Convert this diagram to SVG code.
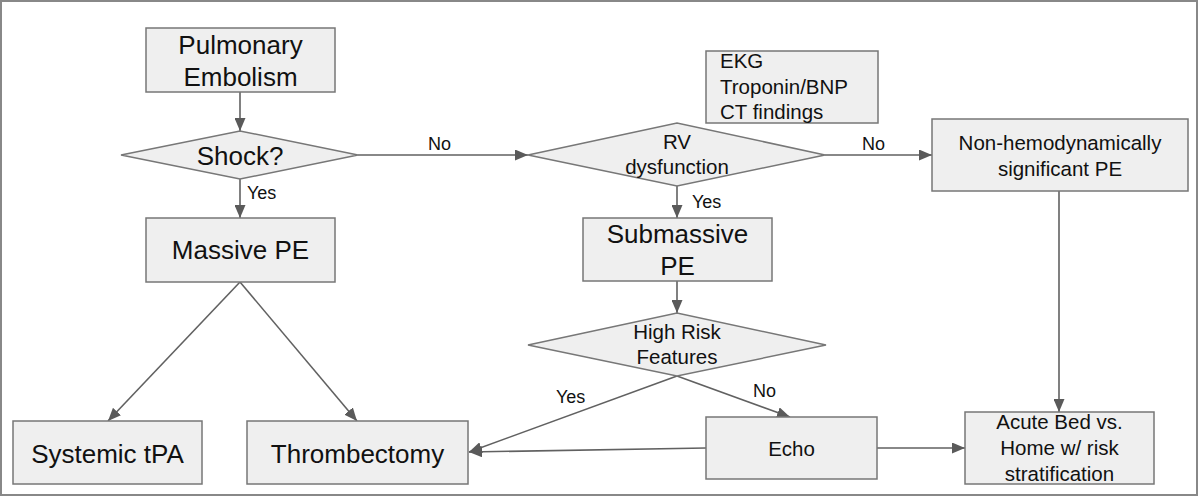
<svg xmlns="http://www.w3.org/2000/svg" width="1200" height="497" viewBox="0 0 1200 497">
<style>
.box{fill:#efefef;stroke:#777;stroke-width:1.5}
.t{font-family:"Liberation Sans",Arial,sans-serif;fill:#111;text-anchor:middle}
.big{font-size:26px}
.mid{font-size:20.5px}
.lbl{font-size:18px;font-family:"Liberation Sans",Arial,sans-serif;fill:#111}
.c{stroke:#616161;stroke-width:1.6;fill:none;marker-end:url(#ah)}
</style>
<defs>
<marker id="ah" markerUnits="userSpaceOnUse" markerWidth="13" markerHeight="11" refX="13" refY="5.5" orient="auto">
<path d="M0,0 L13,5.5 L0,11 z" fill="#5a5a5a"/>
</marker>
</defs>
<rect x="1" y="1" width="1196" height="494" fill="#fff" stroke="#888" stroke-width="2"/>
<g id="connectors">
<line class="c" x1="240" y1="92" x2="240" y2="131"/>
<line class="c" x1="240" y1="179" x2="240" y2="218"/>
<line class="c" x1="358" y1="155" x2="528" y2="155"/>
<line class="c" x1="677" y1="186" x2="677" y2="218"/>
<line class="c" x1="825" y1="155" x2="932" y2="155"/>
<line class="c" x1="240" y1="282" x2="108" y2="421"/>
<line class="c" x1="240" y1="282" x2="357" y2="421"/>
<line class="c" x1="677" y1="281" x2="677" y2="313"/>
<line class="c" x1="677" y1="376" x2="469" y2="452"/>
<line class="c" x1="677" y1="376" x2="790" y2="417"/>
<line class="c" x1="706" y1="448" x2="469" y2="452"/>
<line class="c" x1="877" y1="448" x2="965" y2="448"/>
<line class="c" x1="1059" y1="191" x2="1059" y2="412"/>
<text class="lbl" x="247" y="199">Yes</text>
<text class="lbl" x="428" y="150">No</text>
<text class="lbl" x="692" y="208">Yes</text>
<text class="lbl" x="862" y="150">No</text>
<text class="lbl" x="556" y="403">Yes</text>
<text class="lbl" x="753" y="397">No</text>
</g>
<g id="pulmonary-embolism">
<rect class="box" x="146" y="28" width="189" height="64"/>
<text class="t big" x="240.5" y="54">Pulmonary</text>
<text class="t big" x="240.5" y="86">Embolism</text>
</g>
<g id="shock">
<polygon class="box" points="121,155 240,131 358,155 240,179"/>
<text class="t big" x="240" y="165">Shock?</text>
</g>
<g id="massive-pe">
<rect class="box" x="146" y="218" width="189" height="64"/>
<text class="t big" x="240.5" y="259">Massive PE</text>
</g>
<g id="systemic-tpa">
<rect class="box" x="13" y="421" width="189" height="63"/>
<text class="t big" x="107.5" y="463">Systemic tPA</text>
</g>
<g id="thrombectomy">
<rect class="box" x="247" y="421" width="221" height="63"/>
<text class="t big" x="357.5" y="463">Thrombectomy</text>
</g>
<g id="tests">
<rect class="box" x="706" y="51" width="172" height="72"/>
<text class="t mid" x="720" y="68" style="text-anchor:start">EKG</text>
<text class="t mid" x="720" y="94" style="text-anchor:start">Troponin/BNP</text>
<text class="t mid" x="720" y="119" style="text-anchor:start">CT findings</text>
</g>
<g id="rv-dysfunction">
<polygon class="box" points="528,155 677,123 825,155 677,186"/>
<text class="t mid" x="677" y="149">RV</text>
<text class="t mid" x="677" y="174">dysfunction</text>
</g>
<g id="non-hemodynamic">
<rect class="box" x="932" y="119" width="256" height="72"/>
<text class="t mid" x="1060" y="150">Non-hemodynamically</text>
<text class="t mid" x="1060" y="176">significant PE</text>
</g>
<g id="submassive-pe">
<rect class="box" x="583" y="218" width="189" height="63"/>
<text class="t big" x="677.5" y="243">Submassive</text>
<text class="t big" x="677.5" y="275">PE</text>
</g>
<g id="high-risk">
<polygon class="box" points="528,345 677,313 826,345 677,376"/>
<text class="t mid" x="677" y="339">High Risk</text>
<text class="t mid" x="677" y="364">Features</text>
</g>
<g id="echo">
<rect class="box" x="706" y="417" width="171" height="62"/>
<text class="t mid" x="791.5" y="456">Echo</text>
</g>
<g id="acute-bed">
<rect class="box" x="965" y="412" width="189" height="72"/>
<text class="t mid" x="1059.5" y="429">Acute Bed vs.</text>
<text class="t mid" x="1059.5" y="455">Home w/ risk</text>
<text class="t mid" x="1059.5" y="481">stratification</text>
</g>
</svg>
